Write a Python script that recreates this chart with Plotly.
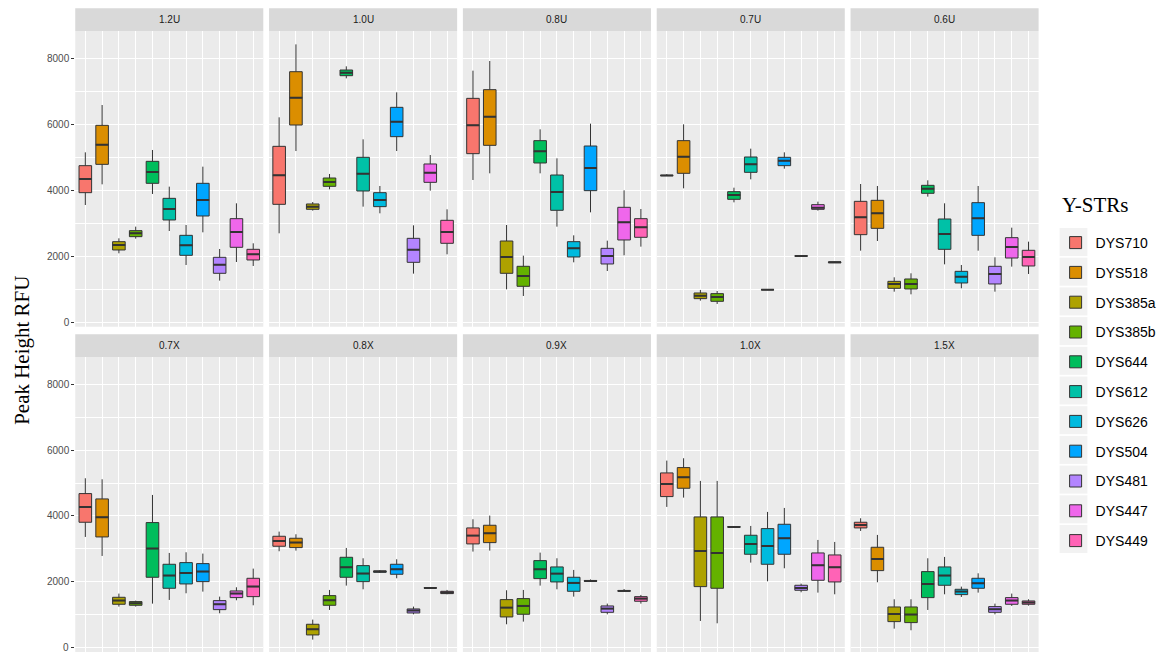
import plotly.graph_objects as go

# Y-STR loci (order of boxes within every panel)
STRS = ["DYS710", "DYS518", "DYS385a", "DYS385b", "DYS644", "DYS612",
        "DYS626", "DYS504", "DYS481", "DYS447", "DYS449"]
COLORS = ["#F8766D", "#DB8E00", "#AEA200", "#64B200", "#00BD5C", "#00C1A7",
          "#00BADE", "#00A6FF", "#B385FF", "#EF67EB", "#FF63B6"]

PANELS = ["1.2U", "1.0U", "0.8U", "0.7U", "0.6U",
          "0.7X", "0.8X", "0.9X", "1.0X", "1.5X"]

Y_TICKS = [0, 2000, 4000, 6000, 8000]
Y_MINOR = [1000, 3000, 5000, 7000]

# Box statistics per locus: (lower whisker, Q1, median, Q3, upper whisker), RFU
U12 = [(3555, 3929, 4343, 4747, 5151), (4181, 4787, 5383, 5969, 6585),
       (2091, 2192, 2343, 2444, 2545), (2535, 2596, 2697, 2778, 2899),
       (3889, 4212, 4555, 4878, 5222), (2767, 3101, 3434, 3757, 4111),
       (1737, 2030, 2333, 2636, 2949), (2727, 3222, 3707, 4212, 4717),
       (1263, 1485, 1747, 1970, 2222), (1828, 2273, 2737, 3141, 3606),
       (1707, 1889, 2060, 2212, 2394)]
U10 = [(2697, 3575, 4454, 5333, 6212), (5191, 5979, 6807, 7595, 8423),
       (3384, 3424, 3505, 3586, 3646), (4030, 4121, 4252, 4373, 4495),
       (7393, 7474, 7565, 7646, 7757), (3505, 3979, 4505, 5000, 5545),
       (3303, 3505, 3707, 3929, 4131), (5191, 5626, 6080, 6515, 6969),
       (1475, 1818, 2202, 2545, 2939), (3990, 4242, 4535, 4798, 5070),
       (2060, 2394, 2737, 3091, 3424)]
U08 = [(4313, 5111, 5969, 6787, 7626), (4515, 5363, 6232, 7050, 7918),
       (1000, 1485, 1980, 2464, 2949), (798, 1091, 1404, 1697, 2020),
       (4515, 4828, 5181, 5505, 5848), (2899, 3394, 3949, 4464, 4969),
       (1818, 1980, 2242, 2444, 2636), (3333, 3990, 4676, 5343, 6020),
       (1555, 1768, 2010, 2242, 2474), (2030, 2495, 3030, 3485, 4000),
       (2293, 2576, 2879, 3141, 3434)]
U07 = [(4440, 4445, 4450, 4455, 4490), (4060, 4515, 5020, 5505, 5999),
       (657, 717, 808, 889, 980), (556, 636, 768, 869, 949),
       (3636, 3727, 3858, 3959, 4080), (4333, 4545, 4787, 5010, 5262),
       (985, 988, 990, 992, 995), (4656, 4747, 4898, 5000, 5151),
       (2005, 2008, 2010, 2012, 2015), (3384, 3424, 3474, 3565, 3656),
       (1800, 1805, 1818, 1830, 1835)]
U06 = [(2171, 2656, 3181, 3666, 4191), (2464, 2848, 3303, 3697, 4131),
       (929, 1030, 1162, 1242, 1364), (848, 1010, 1162, 1313, 1485),
       (3808, 3909, 4050, 4151, 4303), (1757, 2212, 2677, 3131, 3606),
       (1030, 1192, 1384, 1545, 1737), (2171, 2636, 3151, 3626, 4131),
       (929, 1162, 1465, 1697, 1970), (1687, 1949, 2283, 2565, 2868),
       (1465, 1707, 1980, 2182, 2444)]
X07 = [(3362, 3808, 4274, 4679, 5144), (2785, 3362, 3960, 4517, 5114),
       (1246, 1317, 1428, 1529, 1641), (1246, 1286, 1347, 1398, 1428),
       (1337, 2137, 3008, 3798, 4638), (1448, 1803, 2187, 2532, 2876),
       (1651, 1934, 2268, 2582, 2896), (1701, 2005, 2309, 2552, 2856),
       (1043, 1154, 1317, 1428, 1549), (1438, 1519, 1641, 1722, 1833),
       (1286, 1549, 1853, 2106, 2400)]
X08 = [(2927, 3079, 3241, 3382, 3524), (2947, 3038, 3190, 3322, 3443),
       (243, 385, 557, 709, 851), (1144, 1286, 1438, 1580, 1752),
       (1884, 2137, 2441, 2744, 3028), (1772, 2005, 2248, 2491, 2714),
       (2268, 2290, 2309, 2330, 2350), (2106, 2228, 2380, 2532, 2684),
       (1013, 1053, 1124, 1175, 1246), (1808, 1810, 1813, 1816, 1818),
       (1620, 1641, 1671, 1711, 1752)]
X09 = [(2917, 3150, 3403, 3636, 3899), (2947, 3190, 3474, 3717, 4010),
       (709, 932, 1215, 1458, 1742), (790, 1013, 1266, 1489, 1752),
       (1884, 2096, 2380, 2643, 2886), (1772, 1995, 2248, 2451, 2714),
       (1549, 1711, 1965, 2137, 2360), (2005, 2015, 2025, 2035, 2070),
       (1013, 1073, 1185, 1266, 1337), (1715, 1718, 1722, 1728, 1780),
       (1337, 1408, 1489, 1549, 1600)]
X10 = [(4274, 4588, 4972, 5307, 5681), (4557, 4841, 5175, 5469, 5752),
       (810, 1853, 2937, 3970, 5064), (739, 1803, 2876, 3970, 5064),
       (3660, 3663, 3666, 3669, 3672), (2582, 2836, 3150, 3413, 3696),
       (2015, 2532, 3089, 3615, 4122), (2410, 2836, 3322, 3747, 4243),
       (1681, 1742, 1813, 1894, 1944), (1671, 2046, 2501, 2876, 3271),
       (1620, 1995, 2441, 2815, 3210)]
X15 = [(3544, 3636, 3727, 3808, 3929), (1985, 2339, 2694, 3048, 3423),
       (577, 790, 1023, 1235, 1468), (527, 760, 1003, 1235, 1468),
       (1144, 1519, 1934, 2309, 2714), (1620, 1894, 2187, 2451, 2755),
       (1539, 1610, 1701, 1772, 1853), (1671, 1803, 1954, 2106, 2258),
       (1013, 1073, 1165, 1246, 1337), (1266, 1317, 1428, 1519, 1641),
       (1276, 1317, 1367, 1418, 1468)]

PANEL_DATA = [U12, U10, U08, U07, U06, X07, X08, X09, X10, X15]

# ---- layout geometry (pixels) ----
W, H = 1162, 652
COL_X0 = [75.7, 270.7, 465.7, 660.7, 855.7]
PANEL_W = 189.2
ROWS = [  # (strip top, strip bottom / plot top, plot bottom)
    (8.3, 31.0, 326.7),
    (334.3, 357.0, 652.0),
]
Y_RANGE = [-133, 8828]
BOX_W = 0.75
OUTLINE = "#333333"
TICK_FONT = dict(family="Liberation Sans, Arial", size=10, color="#4D4D4D")

# legend placement
LEG_FIRST = 242.0   # centre of first key
LEG_STEP = 29.7     # key spacing
LEG_KEY_X = (1066.0, 1094.0)


def px_x(v):
    return v / W


def px_y(v):
    return 1 - v / H


fig = go.Figure()
layout_axes = {}
shapes = []
annotations = []

for p, (label, stats) in enumerate(zip(PANELS, PANEL_DATA)):
    r, c = divmod(p, 5)
    idx = p + 1
    xa = "x" if idx == 1 else f"x{idx}"
    ya = "y" if idx == 1 else f"y{idx}"
    x0 = COL_X0[c]
    x1 = x0 + PANEL_W
    st, pt, pb = ROWS[r]

    # the lowest label of the bottom row sits on the page edge, so it is
    # written as a free text label resting on that edge
    edge_row = (r == 1 and c == 0)
    tick_text = [("" if (edge_row and t == 0) else str(t)) for t in Y_TICKS]

    layout_axes["xaxis" if idx == 1 else f"xaxis{idx}"] = dict(
        domain=[px_x(x0), px_x(x1)], anchor=ya, range=[-0.6, 10.6],
        tickvals=list(range(len(STRS))), showticklabels=False, ticks="",
        showgrid=True, gridcolor="white", gridwidth=1.1, zeroline=False,
        showline=False, fixedrange=True,
    )
    layout_axes["yaxis" if idx == 1 else f"yaxis{idx}"] = dict(
        domain=[px_y(pb), px_y(pt)], anchor=xa, range=Y_RANGE,
        tickvals=Y_TICKS, ticktext=tick_text,
        showticklabels=(c == 0), ticks="outside" if c == 0 else "",
        ticklen=3, tickwidth=1, tickcolor=OUTLINE, tickfont=TICK_FONT,
        showgrid=True, gridcolor="white", gridwidth=1.1, zeroline=False,
        minor=dict(tickvals=Y_MINOR, showgrid=True,
                   gridcolor="white", gridwidth=0.55),
        showline=False, fixedrange=True,
    )
    if edge_row:
        annotations.append(dict(text="0", xref="paper", yref="paper",
                                x=px_x(x0 - 5), y=0.0, xanchor="right",
                                yanchor="bottom", yshift=-2, borderpad=0,
                                showarrow=False, font=TICK_FONT))

    # panel background and strip
    shapes.append(dict(type="rect", xref="paper", yref="paper", layer="below",
                       x0=px_x(x0), x1=px_x(x1), y0=px_y(pb), y1=px_y(pt),
                       fillcolor="#EBEBEB", line=dict(width=0)))
    shapes.append(dict(type="rect", xref="paper", yref="paper", layer="below",
                       x0=px_x(x0), x1=px_x(x1), y0=px_y(pt), y1=px_y(st),
                       fillcolor="#D9D9D9", line=dict(width=0)))
    annotations.append(dict(text=label, xref="paper", yref="paper",
                            x=px_x((x0 + x1) / 2), y=px_y((st + pt) / 2),
                            xanchor="center", yanchor="middle", showarrow=False,
                            font=dict(family="Liberation Sans, Arial", size=10,
                                      color="#1A1A1A")))

    for i, (name, color, (lo, q1, med, q3, hi)) in enumerate(zip(STRS, COLORS, stats)):
        fig.add_trace(go.Box(
            x=[i], lowerfence=[lo], q1=[q1], median=[med], q3=[q3],
            upperfence=[hi], name=name, legendgroup=name,
            showlegend=(p == 0), fillcolor=color,
            line=dict(color=OUTLINE, width=1), whiskerwidth=0, width=BOX_W,
            boxpoints=False, hoverinfo="skip", xaxis=xa, yaxis=ya,
        ))
        # thicker median bar, as in ggplot boxplots
        fig.add_trace(go.Scatter(
            x=[i - BOX_W / 2, i + BOX_W / 2], y=[med, med], mode="lines",
            line=dict(color=OUTLINE, width=2), showlegend=False,
            hoverinfo="skip", xaxis=xa, yaxis=ya,
        ))

# grey key backgrounds behind the legend glyphs
for k in range(len(STRS)):
    cy = LEG_FIRST + k * LEG_STEP
    shapes.append(dict(type="rect", xref="paper", yref="paper", layer="below",
                       x0=px_x(LEG_KEY_X[0]), x1=px_x(LEG_KEY_X[1]),
                       y0=px_y(cy + 14), y1=px_y(cy - 14),
                       fillcolor="#F2F2F2", line=dict(width=0)))

annotations.append(dict(text="Y-STRs", xref="paper", yref="paper",
                        x=px_x(1066), y=px_y(205), xanchor="left",
                        yanchor="middle", showarrow=False,
                        font=dict(family="Liberation Serif, Times New Roman",
                                  size=21, color="black")))

annotations.append(dict(text="Peak Height RFU", xref="paper", yref="paper",
                        x=px_x(22), y=px_y(350), textangle=-90,
                        xanchor="center", yanchor="middle", showarrow=False,
                        font=dict(family="Liberation Serif, Times New Roman",
                                  size=21, color="black")))

fig.update_layout(
    width=W, height=H, margin=dict(l=0, r=0, t=0, b=0),
    paper_bgcolor="white", plot_bgcolor="rgba(0,0,0,0)",
    shapes=shapes, annotations=annotations,
    legend=dict(
        x=px_x(1062), y=px_y(LEG_FIRST - 15), xanchor="left", yanchor="top",
        font=dict(family="Liberation Sans, Arial", size=14, color="black"),
        tracegroupgap=8.6, bgcolor="rgba(0,0,0,0)",
    ),
    **layout_axes,
)

fig.write_html("out.html")
